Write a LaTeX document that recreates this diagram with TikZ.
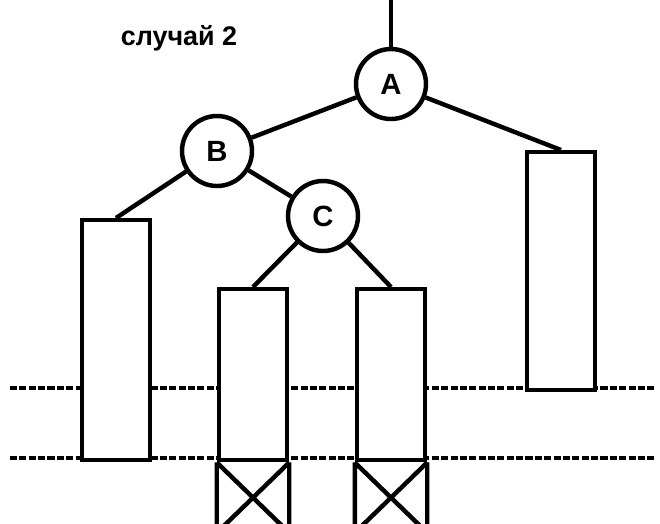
\documentclass[tikz,border=0pt]{standalone}
\usepackage{fontspec}
\setmainfont{Liberation Sans}
\usetikzlibrary{positioning}

\begin{document}
\begin{tikzpicture}[
    x=0.03cm, y=-0.03cm,
    line width=3.8pt,
    every node/.style = {font=\fontsize{25}{28}\selectfont\bfseries},
    vertex/.style = {
        circle,
        draw,
        fill=white,
        minimum size=2.1cm,
        inner sep=0pt
    },
    subtree/.style = {
        rectangle,
        draw,
        fill=white,
        anchor=north,
        minimum width=2.04cm,
        inner sep=0pt
    },
    level/.style = {
        line width=3pt,
        dash pattern=on 6pt off 2pt
    }
]

\useasboundingbox (0,0) rectangle (660,524);

% height levels
\coordinate (h1l) at (10,388);
\coordinate (h1r) at (656,388);
\coordinate (h2l) at (10,458);
\coordinate (h2r) at (656,458);
\draw[level] (h1l) -- (h1r);
\draw[level] (h2l) -- (h2r);

\node[font=\fontsize{23}{26}\selectfont\bfseries] (title) at (179,38) {случай 2};

\coordinate (root) at (391,0);
\node[vertex] (A) at (391,84) {A};
\node[vertex] (B) at (217,151) {B};
\node[vertex] (C) at (323,216) {C};

\node[subtree, minimum height=7.2cm] (lbox) at (116,218) {};
\node[subtree, minimum height=5.13cm] (cl) at (253,287) {};
\node[subtree, minimum height=5.13cm] (cr) at (391,287) {};
\node[subtree, minimum height=7.14cm] (rbox) at (561,150) {};

\draw (root) -- (A);
\draw (A) -- (B);
\draw (A) -- (rbox.north);
\draw (B) -- (lbox.north);
\draw (B) -- (C);
\draw (C) -- (cl.north);
\draw (C) -- (cr.north);

% crossed cells below
\foreach \b in {cl,cr}
    \draw (\b.south west) -- ++(0,66) (\b.south east) -- ++(0,66)
          (\b.south west) -- ++(68,66) (\b.south east) -- ++(-68,66);

\end{tikzpicture}
\end{document}
